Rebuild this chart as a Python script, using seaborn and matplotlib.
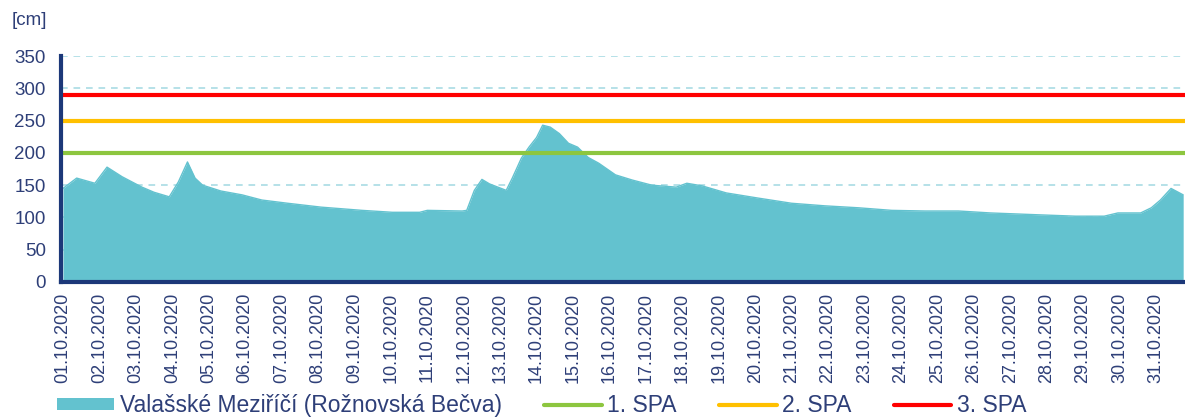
import matplotlib
matplotlib.use("Agg")
import matplotlib.pyplot as plt
import matplotlib.dates as mdates
from matplotlib.patches import Patch
from matplotlib.lines import Line2D
import seaborn as sns
import pandas as pd

# ---- data ----
times = [
    "2020-10-01 00:00", "2020-10-01 09:00", "2020-10-01 21:00", "2020-10-02 05:00",
    "2020-10-02 15:00", "2020-10-03 04:00", "2020-10-03 12:00", "2020-10-03 22:00",
    "2020-10-04 04:00", "2020-10-04 10:00", "2020-10-04 15:00", "2020-10-04 20:00",
    "2020-10-05 08:00", "2020-10-05 22:00", "2020-10-06 11:00", "2020-10-07 04:00",
    "2020-10-08 02:00", "2020-10-09 05:00", "2020-10-10 01:00", "2020-10-10 19:00",
    "2020-10-11 00:00", "2020-10-11 23:00", "2020-10-12 02:00", "2020-10-12 07:00",
    "2020-10-12 12:00", "2020-10-12 17:00", "2020-10-13 04:00", "2020-10-13 08:00",
    "2020-10-13 14:00", "2020-10-13 19:00", "2020-10-14 00:00", "2020-10-14 04:00",
    "2020-10-14 09:00", "2020-10-14 15:00", "2020-10-14 21:00", "2020-10-15 03:00",
    "2020-10-15 10:00", "2020-10-15 17:00", "2020-10-16 04:00", "2020-10-16 15:00",
    "2020-10-17 04:00", "2020-10-17 20:00", "2020-10-18 03:00", "2020-10-18 13:00",
    "2020-10-19 05:00", "2020-10-20 02:00", "2020-10-21 00:00", "2020-10-21 22:00",
    "2020-10-22 20:00", "2020-10-23 18:00", "2020-10-24 16:00", "2020-10-25 14:00",
    "2020-10-26 11:00", "2020-10-27 20:00", "2020-10-28 19:00", "2020-10-29 14:00",
    "2020-10-29 23:00", "2020-10-30 14:00", "2020-10-30 21:00", "2020-10-31 03:00",
    "2020-10-31 10:00", "2020-10-31 18:00",
]
level_cm = [
    145, 161, 153, 178,
    163, 147, 139, 132,
    155, 186, 161, 150,
    141, 135, 127, 122,
    116, 111, 108, 108,
    111, 110, 111, 142,
    159, 152, 142, 161,
    192, 209, 224, 243,
    240, 230, 215, 209,
    193, 184, 166, 158,
    150, 147, 153, 149,
    138, 130, 122, 118,
    115, 111, 110, 110,
    107, 104, 102, 102,
    107, 107, 115, 127,
    145, 135,
]
spa_levels = [200, 250, 290]
spa_labels = ["1. SPA", "2. SPA", "3. SPA"]
station_label = "Valašské Meziříčí (Rožnovská Bečva)"
y_ticks = [0, 50, 100, 150, 200, 250, 300, 350]

# ---- style ----
AREA = "#63c2cf"
NAVY = "#1c3879"
TXT = "#2e3f78"
GRID = "#a9dce4"
SPA_COLORS = ["#8dc63f", "#ffc000", "#ff0000"]

sns.set_style("white")
plt.rcParams["font.family"] = ["Liberation Sans", "DejaVu Sans"]

df = pd.DataFrame({"time": pd.to_datetime(times), "level": level_cm})

fig = plt.figure(figsize=(11.85, 4.19), dpi=100)
ax = fig.add_axes([0.0515, 0.327, 0.9485, 0.539])

ax.fill_between(df["time"], 0, df["level"], color=AREA, lw=0, zorder=2)
sns.lineplot(data=df, x="time", y="level", ax=ax, color=AREA, lw=1, zorder=2)

for lvl, c in zip(spa_levels, SPA_COLORS):
    ax.axhline(lvl, color=c, lw=3, zorder=3)

start = pd.Timestamp("2020-10-01 00:00")
ax.set_xlim(start - pd.Timedelta(hours=1.3), start + pd.Timedelta(days=30.8))
ax.set_ylim(0, 350)
ax.set_yticks(y_ticks)
ax.yaxis.grid(True, color=GRID, ls=(0, (4, 3.5)), lw=1.2, zorder=1)
ax.xaxis.grid(False)
ax.set_axisbelow(True)

ax.xaxis.set_major_locator(mdates.DayLocator())
ax.xaxis.set_major_formatter(mdates.DateFormatter("%d.%m.%Y"))
ax.tick_params(axis="x", labelrotation=90, length=0, pad=8, labelsize=13, labelcolor=TXT)
ax.tick_params(axis="y", length=0, pad=11, labelsize=13.5, labelcolor=TXT)
for lbl in ax.get_xticklabels():
    lbl.set_verticalalignment("top")

ax.set_xlabel("")
ax.set_ylabel("")
for side in ["top", "right"]:
    ax.spines[side].set_visible(False)
for side in ["left", "bottom"]:
    ax.spines[side].set_color(NAVY)
    ax.spines[side].set_linewidth(3)
    ax.spines[side].set_zorder(5)

fig.text(0.010, 0.950, "[cm]", fontsize=13.5, color=TXT, ha="left", va="center")

handles = [Patch(facecolor=AREA, edgecolor="none", label=station_label)]
for lab, c in zip(spa_labels, SPA_COLORS):
    handles.append(Line2D([0], [0], color=c, lw=3, label=lab))
leg = fig.legend(handles=handles, loc="center left", bbox_to_anchor=(0.048, 0.032),
                 ncol=4, frameon=False, fontsize=16.5, handlelength=2.5,
                 handleheight=0.45, handletextpad=0.25, columnspacing=1.85,
                 borderaxespad=0, borderpad=0)
for t in leg.get_texts():
    t.set_color(TXT)

fig.savefig("out.png", dpi=100)
